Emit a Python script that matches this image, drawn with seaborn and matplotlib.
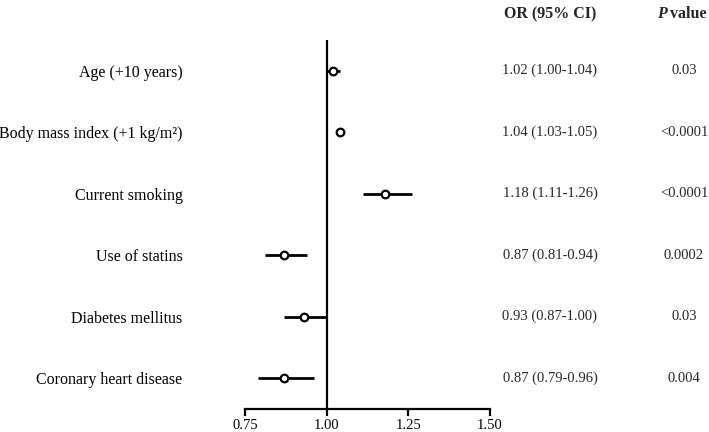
import seaborn as sns
import matplotlib.pyplot as plt
import matplotlib.transforms as mtransforms
import pandas as pd

# Données du forest plot
labels = ['Age (+10 years)', 'Body mass index (+1 kg/m\u00b2)', 'Current smoking',
          'Use of statins', 'Diabetes mellitus', 'Coronary heart disease']
odds = [1.02, 1.04, 1.18, 0.87, 0.93, 0.87]
ci_low = [1.00, 1.03, 1.11, 0.81, 0.87, 0.79]
ci_high = [1.04, 1.05, 1.26, 0.94, 1.00, 0.96]
pvals = ['0.03', '<0.0001', '<0.0001', '0.0002', '0.03', '0.004']
xticks = [0.75, 1.00, 1.25, 1.50]

df = pd.DataFrame({'label': labels, 'OR': odds, 'low': ci_low, 'high': ci_high, 'p': pvals})
df['row'] = range(len(df))

sns.set_style('white')
plt.rcParams['font.family'] = ['Liberation Serif', 'DejaVu Serif']

fig = plt.figure(figsize=(7.09, 4.32), dpi=100)
ax = fig.add_axes([245 / 709, 1 - 409 / 432, 245 / 709, (409 - 40) / 432])

# Intervalles de confiance
ax.hlines(df['row'], df['low'], df['high'], color='black', linewidth=2, zorder=2)
# Points OR
sns.scatterplot(data=df, x='OR', y='row', ax=ax, s=30, facecolor='white',
                edgecolor='black', linewidth=1.6, zorder=3, legend=False)
ax.axvline(1.0, color='black', linewidth=1.6, zorder=1)

ax.set_xlim(0.75, 1.5)
ax.set_ylim(len(df) - 0.5, -0.5)
ax.set_xticks(xticks)
ax.set_xticklabels([f'{t:.2f}' for t in xticks])
ax.set_yticks(df['row'])
ax.set_yticklabels(df['label'])
ax.set_xlabel('')
ax.set_ylabel('')
for s in ['top', 'right', 'left']:
    ax.spines[s].set_visible(False)
ax.spines['bottom'].set_linewidth(1.6)
ax.spines['bottom'].set_color('black')
ax.tick_params(axis='x', bottom=True, direction='out', length=5, width=1.6,
               labelsize=10.5, pad=2, colors='black')
ax.tick_params(axis='y', left=False, length=0, pad=45, labelsize=11.5, labelcolor='black')

# Colonnes de texte
trans = mtransforms.blended_transform_factory(fig.transFigure, ax.transData)
for i, r in df.iterrows():
    ax.text(550 / 709, r['row'], f"{r['OR']:.2f} ({r['low']:.2f}-{r['high']:.2f})",
            transform=trans, ha='center', va='center', fontsize=10.5)
    ax.text(684 / 709, r['row'], r['p'], transform=trans, ha='center', va='center', fontsize=10.5)

fig.text(550 / 709, 1 - 14 / 432, 'OR (95% CI)', ha='center', va='center',
         fontsize=11.5, fontweight='bold')
fig.text(657 / 709, 1 - 14 / 432, 'P', ha='left', va='center', fontsize=11.5,
         fontweight='bold', fontstyle='italic')
fig.text(670 / 709, 1 - 14 / 432, 'value', ha='left', va='center', fontsize=11.5,
         fontweight='bold')

fig.savefig('out.png', dpi=100)
